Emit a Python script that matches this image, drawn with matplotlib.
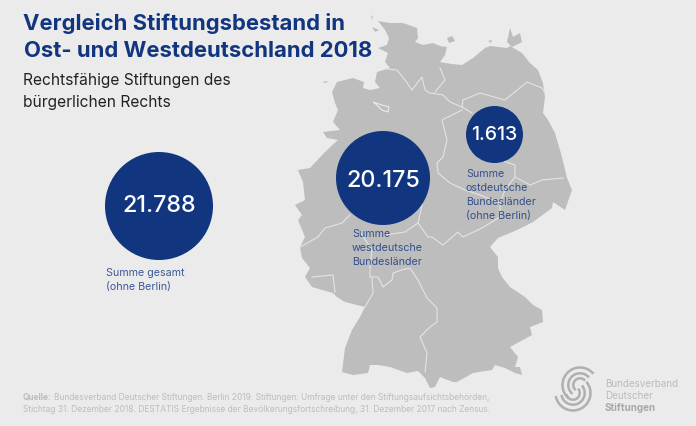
import matplotlib
matplotlib.use("Agg")
import matplotlib.pyplot as plt
from matplotlib.patches import Polygon, Circle, Arc

plt.rcParams['font.family'] = ['Inter', 'DejaVu Sans']

BG = '#ebebeb'
MAP = '#bdbdbd'
BLUE = '#12357f'
GREY = '#bdbdbd'

# Values
total_value = "21.788"
west_value = "20.175"
east_value = "1.613"
total_label = "Summe gesamt\n(ohne Berlin)"
west_label = "Summe\nwestdeutsche\nBundesländer"
east_label = "Summe\nostdeutsche\nBundesländer\n(ohne Berlin)"
title_lines = ["Vergleich Stiftungsbestand in", "Ost- und Westdeutschland 2018"]
subtitle_lines = ["Rechtsfähige Stiftungen des", "bürgerlichen Rechts"]
source_bold = "Quelle:"
source_1 = "Bundesverband Deutscher Stiftungen. Berlin 2019. Stiftungen: Umfrage unter den Stiftungsaufsichtsbehörden,"
source_2 = "Stichtag 31. Dezember 2018. DESTATIS Ergebnisse der Bevölkerungsfortschreibung, 31. Dezember 2017 nach Zensus."
logo_lines = ["Bundesverband", "Deutscher", "Stiftungen"]

# Map outline, pixel coords
outline = [
    (378, 21), (390, 23), (403, 23), (417, 28), (418, 38), (415, 42), (423, 45),
    (433, 43), (440, 46), (447, 47), (445, 55), (440, 62), (445, 63), (452, 64),
    (462, 65), (473, 58), (485, 48), (490, 46), (507, 48), (510, 46), (522, 53),
    (530, 63), (538, 70), (543, 83), (545, 97), (543, 113), (548, 120), (555, 133),
    (557, 140), (562, 157), (567, 178), (572, 190), (565, 210), (553, 202),
    (552, 208), (533, 222), (517, 230), (498, 238), (490, 247), (498, 257),
    (498, 268), (502, 277), (510, 287), (525, 297), (533, 305), (542, 310),
    (543, 322), (530, 327), (532, 335), (510, 347), (518, 357), (515, 367),
    (520, 367), (522, 375), (515, 373), (505, 368), (495, 365), (492, 370),
    (473, 373), (457, 382), (453, 382), (440, 377), (435, 387), (430, 388),
    (425, 378), (418, 371), (407, 373), (390, 367), (378, 365), (370, 365),
    (368, 373), (353, 375), (342, 372), (345, 348), (352, 330), (360, 317),
    (365, 307), (345, 302), (337, 297), (333, 293), (312, 287), (305, 277),
    (310, 268), (302, 258), (300, 247), (305, 237), (298, 220), (302, 215),
    (295, 205), (305, 200), (303, 182), (298, 170), (310, 168), (325, 152),
    (338, 140), (327, 138), (323, 132), (340, 130), (333, 122), (338, 110),
    (335, 103), (332, 92), (337, 82), (353, 78), (364, 82), (363, 88), (370, 90),
    (380, 88), (375, 82), (377, 72), (390, 68), (385, 62), (388, 53), (378, 48),
    (387, 45), (389, 38), (385, 30),
]
# State borders
borders = [
    [(387, 69), (397, 70), (405, 80), (412, 90), (422, 77), (425, 90), (430, 93),
     (443, 95), (450, 102), (462, 107), (472, 113)],
    [(435, 92), (445, 80), (440, 68)],
    [(462, 107), (463, 100), (480, 93), (505, 100), (527, 82), (542, 88), (545, 93)],
    [(462, 110), (442, 120), (447, 140), (443, 157), (437, 163), (438, 173),
     (450, 183), (465, 190), (480, 195), (500, 203)],
    [(500, 160), (515, 165), (515, 177), (505, 190), (500, 203), (500, 217), (482, 228)],
    [(515, 177), (530, 185), (542, 180), (563, 178)],
    [(422, 205), (418, 223), (428, 237), (432, 237), (443, 245), (458, 232),
     (463, 237), (482, 228)],
    [(318, 237), (325, 228), (342, 223), (350, 215)],
    [(300, 247), (318, 237)],
    [(370, 267), (370, 277), (378, 277), (383, 287), (392, 280), (393, 273),
     (402, 270), (410, 268), (418, 280), (427, 298), (437, 308), (437, 322),
     (430, 327), (420, 337), (427, 353), (425, 372)],
    [(372, 278), (373, 293), (365, 307)],
    [(312, 277), (333, 275), (335, 292)],
    [(370, 267), (372, 250), (360, 232)],
    [(418, 223), (405, 232), (385, 235)],
]
lake = [(373, 102), (382, 105), (389, 107), (388, 112), (382, 110), (377, 105)]
islands = [
    [(447, 38), (452, 36), (455, 41), (449, 43)],
    [(507, 42), (510, 28), (513, 37), (520, 33), (522, 42), (512, 47)],
    [(488, 41), (492, 40), (491, 43)],
    [(372, 27), (379, 30), (375, 32)],
    [(371, 15), (373, 17), (372, 20)],
    [(322, 82), (328, 81), (326, 83)],
]

fig = plt.figure(figsize=(6.96, 4.26), dpi=100, facecolor=BG)
ax = fig.add_axes([0, 0, 1, 1])
ax.set_xlim(0, 696)
ax.set_ylim(426, 0)
ax.axis('off')

ax.add_patch(Polygon(outline, closed=True, fc=MAP, ec='none', zorder=1))
for isl in islands:
    ax.add_patch(Polygon(isl, closed=True, fc=MAP, ec='none', zorder=1))
ax.add_patch(Polygon(lake, closed=True, fc=MAP, ec='#ececec', lw=0.8, zorder=2))
for b in borders:
    ax.plot([p[0] for p in b], [p[1] for p in b], color='#e4e4e4', lw=0.8, zorder=2)

# Bubbles
for cx, cy, r in [(159, 206, 54), (383, 178, 47), (494.5, 134.5, 28.5)]:
    ax.add_patch(Circle((cx, cy), r, fc=BLUE, ec='none', zorder=3))
ax.text(159, 206, total_value, color='white', fontsize=16.8, fontweight=500, ha='center', va='center', zorder=4)
ax.text(383, 181, west_value, color='white', fontsize=16.8, fontweight=500, ha='center', va='center', zorder=4)
ax.text(494.5, 135, east_value, color='white', fontsize=14, fontweight=500, ha='center', va='center', zorder=4)

# Titles
ax.text(23, 24, title_lines[0], color=BLUE, fontsize=15.9, fontweight='bold', va='center')
ax.text(24, 51, title_lines[1], color=BLUE, fontsize=15.9, fontweight='bold', va='center')
ax.text(23, 80, subtitle_lines[0], color='#222222', fontsize=11.2, va='center')
ax.text(23, 102, subtitle_lines[1], color='#222222', fontsize=11.2, va='center')

# Labels
ax.text(106, 280, total_label, color=BLUE, fontsize=7.7, va='center', linespacing=1.5, alpha=0.8)
ax.text(352, 248, west_label, color=BLUE, fontsize=7.7, va='center', linespacing=1.5, alpha=0.8, zorder=4)
ax.text(466, 195, east_label, color=BLUE, fontsize=7.7, va='center', linespacing=1.5, alpha=0.8, zorder=4)

# Source
ax.text(23, 397, source_bold, color=GREY, fontsize=6.0, fontweight='bold', va='center')
ax.text(54, 397, source_1, color=GREY, fontsize=6.07, va='center')
ax.text(23, 409, source_2, color=GREY, fontsize=6.07, va='center')

# Logo
for cx, cy, t1, t2 in [(580, 385, 130, 320), (573, 393, -40, 170)]:
    for r in (6.7, 11.7, 17.5):
        ax.add_patch(Arc((cx, cy), 2 * r, 2 * r, theta1=t1, theta2=t2, color='#b0b0b0', lw=1.8, zorder=2))
ax.text(605, 384, logo_lines[0], color='#bbbbbb', fontsize=7.1, va='center')
ax.text(605, 396, logo_lines[1], color='#bbbbbb', fontsize=7.1, va='center')
ax.text(605, 408, logo_lines[2], color='#a8a8a8', fontsize=7.1, fontweight='bold', va='center')

fig.savefig('out.png', dpi=100, facecolor=BG)
